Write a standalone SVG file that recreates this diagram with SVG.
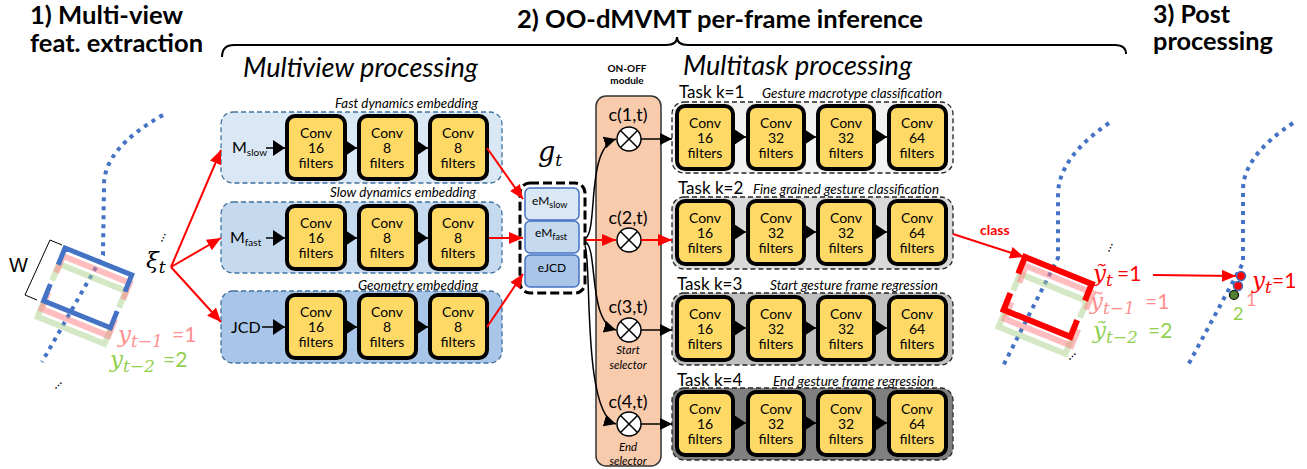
<svg xmlns="http://www.w3.org/2000/svg" width="1307" height="469" viewBox="0 0 1307 469">
<style>
.t{font-family:Lato,"Open Sans","Liberation Sans",sans-serif}
.b{font-weight:bold}
.i{font-style:italic}
.m{font-family:"DejaVu Serif","Liberation Serif",serif;font-style:italic}
.u{font-family:Lato,"Open Sans","Liberation Sans",sans-serif;font-style:normal}
.cv{font-family:Lato,"Open Sans","Liberation Sans",sans-serif;font-size:14px;text-anchor:middle}
.conv{fill:#ffd966;stroke:#000;stroke-width:4}
.mv{stroke:#41719c;stroke-width:1.3;stroke-dasharray:5 3}
.task{stroke:#262626;stroke-width:1.3;stroke-dasharray:5 3}
.ba{stroke:#000;stroke-width:1.5;fill:none}
.ra{stroke:#ff0000;stroke-width:2;fill:none}
.dot{stroke:#4472c4;stroke-width:4;stroke-dasharray:4 5;fill:none}
.emb{stroke:#4472c4;stroke-width:1.5}
</style>
<defs>
<marker id="bigB" markerUnits="userSpaceOnUse" markerWidth="12" markerHeight="16" refX="12" refY="8" orient="auto"><path d="M0,0 L12,8 L0,16 z" fill="#000"/></marker>
<marker id="smB" markerUnits="userSpaceOnUse" markerWidth="12" markerHeight="12" refX="12" refY="6" orient="auto"><path d="M0,0 L12,6 L0,12 z" fill="#000"/></marker>
<marker id="rA" markerUnits="userSpaceOnUse" markerWidth="14" markerHeight="12" refX="14" refY="6" orient="auto"><path d="M0,0 L14,6 L0,12 z" fill="#ff0000"/></marker>
<path id="frame" d="M0,18 L0,0 L72,0 L72,18 M0,39 L0,57 L72,57 L72,39"/>
</defs>

<!-- Titles -->
<g id="titles">
<text class="t b" x="30" y="24" font-size="25" textLength="153" lengthAdjust="spacingAndGlyphs">1) Multi-view</text>
<text class="t b" x="30" y="52" font-size="25" textLength="173" lengthAdjust="spacingAndGlyphs">feat. extraction</text>
<text class="t b" x="517" y="28" font-size="24" textLength="406" lengthAdjust="spacingAndGlyphs">2) OO-dMVMT per-frame inference</text>
<text class="t b" x="1153" y="23" font-size="24" textLength="77" lengthAdjust="spacingAndGlyphs">3) Post</text>
<text class="t b" x="1153" y="50" font-size="24" textLength="120" lengthAdjust="spacingAndGlyphs">processing</text>
<path d="M222,57 Q222,45 234,45 L666,45 Q677,45 677,37 Q677,45 688,45 L1115,45 Q1126,45 1126,54" fill="none" stroke="#000" stroke-width="2"/>
<text class="t i" x="243" y="77" font-size="27" textLength="235" lengthAdjust="spacingAndGlyphs">Multiview processing</text>
<text class="t i" x="683" y="75" font-size="27" textLength="229" lengthAdjust="spacingAndGlyphs">Multitask processing</text>
<text class="t b" x="627" y="72" font-size="10" text-anchor="middle">ON-OFF</text>
<text class="t b" x="627" y="84" font-size="10" text-anchor="middle">module</text>
</g>

<!-- Left: multi-view feature extraction -->
<g id="input-view">
<path class="dot" d="M163,115 Q104,148 104,185 L103,255 L42,362"/>
<g transform="translate(59,264) rotate(22)"><use href="#frame" fill="none" stroke="#a9d18e" stroke-opacity="0.5" stroke-width="6"/></g>
<g transform="translate(63,256) rotate(22)"><use href="#frame" fill="none" stroke="#ff7c80" stroke-opacity="0.5" stroke-width="6"/></g>
<g transform="translate(65,248) rotate(22)"><use href="#frame" fill="none" stroke="#4472c4" stroke-width="5"/></g>
<path d="M62,245 L50,240 L25,295 L37,300" fill="none" stroke="#000" stroke-width="1"/>
<text x="9" y="272" font-size="20" font-family="Liberation Sans, sans-serif">W</text>
<text class="m" x="146" y="268" font-size="23">ξ<tspan font-size="17" dy="5">t</tspan></text>
<text class="t" x="164" y="238" font-size="13" transform="rotate(-65 164 238)" text-anchor="middle">…</text>
<text class="t" x="59" y="386" font-size="13" transform="rotate(-45 59 386)" text-anchor="middle">…</text>
<text class="m" x="118" y="342" font-size="23" fill="#ff8f8f">y<tspan font-size="17" dy="5">t−1</tspan><tspan class="u" font-size="21" dy="-5" x="172">=1</tspan></text>
<text class="m" x="110" y="367" font-size="23" fill="#92d050">y<tspan font-size="17" dy="5">t−2</tspan><tspan class="u" font-size="21" dy="-5" x="163">=2</tspan></text>
</g>

<!-- Multiview: Fast dynamics embedding -->
<g id="mv-slow">
<rect class="mv" x="221" y="112" width="281" height="71" rx="12" fill="#dae7f4"/>
<text class="t i" x="335" y="108" font-size="13" textLength="143" lengthAdjust="spacingAndGlyphs">Fast dynamics embedding</text>
<text class="t" x="232" y="153" font-size="16">M<tspan font-size="10" dy="3">slow</tspan></text>
<rect class="conv" x="287" y="116" width="58" height="63" rx="8"/>
<rect class="conv" x="359" y="116" width="57" height="63" rx="8"/>
<rect class="conv" x="430" y="116" width="57" height="63" rx="8"/>
<text class="cv" x="316" y="138">Conv</text><text class="cv" x="316" y="153">16</text><text class="cv" x="316" y="168">filters</text>
<text class="cv" x="387" y="138">Conv</text><text class="cv" x="387" y="153">8</text><text class="cv" x="387" y="168">filters</text>
<text class="cv" x="458" y="138">Conv</text><text class="cv" x="458" y="153">8</text><text class="cv" x="458" y="168">filters</text>
</g>

<g id="mv-fast">
<rect class="mv" x="221" y="202" width="281" height="71" rx="12" fill="#c5d9ef"/>
<text class="t i" x="330" y="197" font-size="13" textLength="146" lengthAdjust="spacingAndGlyphs">Slow dynamics embedding</text>
<text class="t" x="230" y="243" font-size="16">M<tspan font-size="10" dy="3">fast</tspan></text>
<rect class="conv" x="287" y="206" width="58" height="63" rx="8"/>
<rect class="conv" x="359" y="206" width="57" height="63" rx="8"/>
<rect class="conv" x="430" y="206" width="57" height="63" rx="8"/>
<text class="cv" x="316" y="228">Conv</text><text class="cv" x="316" y="243">16</text><text class="cv" x="316" y="258">filters</text>
<text class="cv" x="387" y="228">Conv</text><text class="cv" x="387" y="243">8</text><text class="cv" x="387" y="258">filters</text>
<text class="cv" x="458" y="228">Conv</text><text class="cv" x="458" y="243">8</text><text class="cv" x="458" y="258">filters</text>
</g>

<g id="mv-jcd">
<rect class="mv" x="221" y="291" width="281" height="72" rx="12" fill="#a9c6e8"/>
<text class="t i" x="358" y="290" font-size="13" textLength="120" lengthAdjust="spacingAndGlyphs">Geometry embedding</text>
<text class="t" x="231" y="333" font-size="16">JCD</text>
<rect class="conv" x="287" y="295" width="58" height="63" rx="8"/>
<rect class="conv" x="359" y="295" width="57" height="63" rx="8"/>
<rect class="conv" x="430" y="295" width="57" height="63" rx="8"/>
<text class="cv" x="316" y="317">Conv</text><text class="cv" x="316" y="332">16</text><text class="cv" x="316" y="347">filters</text>
<text class="cv" x="387" y="317">Conv</text><text class="cv" x="387" y="332">8</text><text class="cv" x="387" y="347">filters</text>
<text class="cv" x="458" y="317">Conv</text><text class="cv" x="458" y="332">8</text><text class="cv" x="458" y="347">filters</text>
</g>

<!-- g_t embedding concat -->
<g id="gt">
<text class="m" x="538" y="161" font-size="27">g<tspan font-size="17" dy="5">t</tspan></text>
<rect x="520" y="183" width="65" height="110" rx="10" fill="none" stroke="#000" stroke-width="3" stroke-dasharray="9 4"/>
<rect class="emb" x="525" y="188" width="54" height="32" rx="5" fill="#dae7f4"/>
<rect class="emb" x="525" y="221" width="54" height="32" rx="5" fill="#c5d9ef"/>
<rect class="emb" x="525" y="255" width="54" height="32" rx="5" fill="#a9c6e8"/>
<text class="t" x="532" y="205" font-size="12">eM<tspan font-size="9" dy="3">slow</tspan></text>
<text class="t" x="535" y="237" font-size="12">eM<tspan font-size="9" dy="3">fast</tspan></text>
<text class="t" x="552" y="272" font-size="12" text-anchor="middle">eJCD</text>
</g>

<!-- ON-OFF module -->
<g id="onoff">
<rect x="596" y="96" width="65" height="370" rx="10" fill="#f8cbad" stroke="#333" stroke-width="1.5"/>
<text class="t" x="628" y="121" font-size="18" text-anchor="middle">c(1,t)</text>
<text class="t" x="628" y="224" font-size="18" text-anchor="middle">c(2,t)</text>
<text class="t" x="628" y="313" font-size="18" text-anchor="middle">c(3,t)</text>
<text class="t" x="628" y="408" font-size="18" text-anchor="middle">c(4,t)</text>
<g fill="#fff" stroke="#000" stroke-width="1.5">
<circle cx="629" cy="139" r="12"/><circle cx="629" cy="240" r="12"/><circle cx="629" cy="330" r="12"/><circle cx="629" cy="424" r="12"/>
</g>
<path d="M620.5,130.5 L637.5,147.5 M637.5,130.5 L620.5,147.5 M620.5,231.5 L637.5,248.5 M637.5,231.5 L620.5,248.5 M620.5,321.5 L637.5,338.5 M637.5,321.5 L620.5,338.5 M620.5,415.5 L637.5,432.5 M637.5,415.5 L620.5,432.5" stroke="#000" stroke-width="1.5"/>
<text class="t i" x="628" y="354" font-size="11.5" text-anchor="middle">Start</text>
<text class="t i" x="628" y="369" font-size="11.5" text-anchor="middle">selector</text>
<text class="t i" x="628" y="451" font-size="11.5" text-anchor="middle">End</text>
<text class="t i" x="628" y="465" font-size="11.5" text-anchor="middle">selector</text>
</g>

<!-- Tasks -->
<g id="task1">
<rect class="task" x="672" y="102" width="281" height="71" rx="12" fill="#f2f2f2"/>
<text class="t" x="679" y="98" font-size="17">Task k=1</text>
<text class="t i" x="762" y="98" font-size="13" textLength="180" lengthAdjust="spacingAndGlyphs">Gesture macrotype classification</text>
<rect class="conv" x="677" y="106" width="56" height="63" rx="8"/><rect class="conv" x="748" y="106" width="56" height="63" rx="8"/><rect class="conv" x="818" y="106" width="56" height="63" rx="8"/><rect class="conv" x="889" y="106" width="57" height="63" rx="8"/>
<text class="cv" x="705" y="128">Conv</text><text class="cv" x="705" y="143">16</text><text class="cv" x="705" y="158">filters</text>
<text class="cv" x="776" y="128">Conv</text><text class="cv" x="776" y="143">32</text><text class="cv" x="776" y="158">filters</text>
<text class="cv" x="846" y="128">Conv</text><text class="cv" x="846" y="143">32</text><text class="cv" x="846" y="158">filters</text>
<text class="cv" x="917" y="128">Conv</text><text class="cv" x="917" y="143">64</text><text class="cv" x="917" y="158">filters</text>
</g>
<g id="task2">
<rect class="task" x="672" y="197" width="281" height="72" rx="12" fill="#d9d9d9"/>
<text class="t" x="678" y="194" font-size="17">Task k=2</text>
<text class="t i" x="753" y="194" font-size="13" textLength="186" lengthAdjust="spacingAndGlyphs">Fine grained gesture classification</text>
<rect class="conv" x="677" y="201" width="56" height="63" rx="8"/><rect class="conv" x="748" y="201" width="56" height="63" rx="8"/><rect class="conv" x="818" y="201" width="56" height="63" rx="8"/><rect class="conv" x="889" y="201" width="57" height="63" rx="8"/>
<text class="cv" x="705" y="223">Conv</text><text class="cv" x="705" y="238">16</text><text class="cv" x="705" y="253">filters</text>
<text class="cv" x="776" y="223">Conv</text><text class="cv" x="776" y="238">32</text><text class="cv" x="776" y="253">filters</text>
<text class="cv" x="846" y="223">Conv</text><text class="cv" x="846" y="238">32</text><text class="cv" x="846" y="253">filters</text>
<text class="cv" x="917" y="223">Conv</text><text class="cv" x="917" y="238">64</text><text class="cv" x="917" y="253">filters</text>
</g>
<g id="task3">
<rect class="task" x="672" y="293" width="281" height="72" rx="12" fill="#bfbfbf"/>
<text class="t" x="677" y="290" font-size="17">Task k=3</text>
<text class="t i" x="770" y="290" font-size="13" textLength="168" lengthAdjust="spacingAndGlyphs">Start gesture frame regression</text>
<rect class="conv" x="677" y="297" width="56" height="63" rx="8"/><rect class="conv" x="748" y="297" width="56" height="63" rx="8"/><rect class="conv" x="818" y="297" width="56" height="63" rx="8"/><rect class="conv" x="889" y="297" width="57" height="63" rx="8"/>
<text class="cv" x="705" y="319">Conv</text><text class="cv" x="705" y="334">16</text><text class="cv" x="705" y="349">filters</text>
<text class="cv" x="776" y="319">Conv</text><text class="cv" x="776" y="334">32</text><text class="cv" x="776" y="349">filters</text>
<text class="cv" x="846" y="319">Conv</text><text class="cv" x="846" y="334">32</text><text class="cv" x="846" y="349">filters</text>
<text class="cv" x="917" y="319">Conv</text><text class="cv" x="917" y="334">64</text><text class="cv" x="917" y="349">filters</text>
</g>
<g id="task4">
<rect class="task" x="672" y="388" width="281" height="72" rx="12" fill="#808080"/>
<text class="t" x="677" y="386" font-size="17">Task k=4</text>
<text class="t i" x="773" y="386" font-size="13" textLength="161" lengthAdjust="spacingAndGlyphs">End gesture frame regression</text>
<rect class="conv" x="677" y="392" width="56" height="63" rx="8"/><rect class="conv" x="748" y="392" width="56" height="63" rx="8"/><rect class="conv" x="818" y="392" width="56" height="63" rx="8"/><rect class="conv" x="889" y="392" width="57" height="63" rx="8"/>
<text class="cv" x="705" y="414">Conv</text><text class="cv" x="705" y="429">16</text><text class="cv" x="705" y="444">filters</text>
<text class="cv" x="776" y="414">Conv</text><text class="cv" x="776" y="429">32</text><text class="cv" x="776" y="444">filters</text>
<text class="cv" x="846" y="414">Conv</text><text class="cv" x="846" y="429">32</text><text class="cv" x="846" y="444">filters</text>
<text class="cv" x="917" y="414">Conv</text><text class="cv" x="917" y="429">64</text><text class="cv" x="917" y="444">filters</text>
</g>

<!-- Right: output and post processing -->
<g id="output-view">
<path class="dot" d="M1109,123 Q1058,158 1058,195 L1058,258 L1002,368"/>
<g transform="translate(1020,274) rotate(22)"><use href="#frame" fill="none" stroke="#a9d18e" stroke-opacity="0.5" stroke-width="6"/></g>
<g transform="translate(1026,266) rotate(22)"><use href="#frame" fill="none" stroke="#ff7c80" stroke-opacity="0.5" stroke-width="6"/></g>
<g transform="translate(1025,257) rotate(22)"><use href="#frame" fill="none" stroke="#ff0000" stroke-width="6"/></g>
<text class="t b" x="980" y="235" font-size="14" fill="#ff0000">class</text>
<text class="t" x="1111" y="248" font-size="13" transform="rotate(-65 1111 248)" text-anchor="middle">…</text>
<text class="t" x="1073" y="357" font-size="13" transform="rotate(-45 1073 357)" text-anchor="middle">…</text>
<text class="m" x="1093" y="281" font-size="23" fill="#ff0000">ỹ<tspan font-size="17" dy="5">t</tspan><tspan class="u" font-size="21" dy="-5" x="1117">=1</tspan></text>
<text class="m" x="1090" y="309" font-size="23" fill="#ff8f8f">ỹ<tspan font-size="17" dy="5">t−1</tspan><tspan class="u" font-size="21" dy="-5" x="1145">=1</tspan></text>
<text class="m" x="1093" y="338" font-size="23" fill="#92d050">ỹ<tspan font-size="17" dy="5">t−2</tspan><tspan class="u" font-size="21" dy="-5" x="1148">=2</tspan></text>
</g>
<g id="post">
<path class="dot" d="M1293,123 Q1243,156 1243,190 L1243,263 L1187,367"/>
<circle cx="1241" cy="276" r="4.5" fill="#ff0000" stroke="#4472c4" stroke-width="1.5"/>
<circle cx="1238" cy="286" r="4.5" fill="#ff0000" stroke="#4472c4" stroke-width="1.5"/>
<circle cx="1234" cy="295" r="4.5" fill="#548235" stroke="#000" stroke-width="1.2"/>
<text class="m" x="1252" y="288" font-size="23" fill="#ff0000">y<tspan font-size="17" dy="5">t</tspan><tspan class="u" font-size="21" dy="-5" x="1272">=1</tspan></text>
<text class="t" x="1246" y="306" font-size="18" fill="#ff8f8f">1</text>
<text class="t" x="1233" y="320" font-size="18" fill="#92d050">2</text>
</g>

<!-- Connectors -->
<g id="connectors">
<line class="ra" x1="171" y1="267" x2="221" y2="150" marker-end="url(#rA)"/>
<line class="ra" x1="171" y1="267" x2="221" y2="238" marker-end="url(#rA)"/>
<line class="ra" x1="171" y1="267" x2="221" y2="322" marker-end="url(#rA)"/>
<line class="ba" x1="266" y1="148" x2="285" y2="148" marker-end="url(#bigB)"/>
<line class="ba" x1="266" y1="238" x2="285" y2="238" marker-end="url(#bigB)"/>
<line class="ba" x1="262" y1="327" x2="285" y2="327" marker-end="url(#bigB)"/>
<line class="ba" x1="347" y1="148" x2="357" y2="148" marker-end="url(#bigB)"/>
<line class="ba" x1="418" y1="148" x2="428" y2="148" marker-end="url(#bigB)"/>
<line class="ba" x1="347" y1="238" x2="357" y2="238" marker-end="url(#bigB)"/>
<line class="ba" x1="418" y1="238" x2="428" y2="238" marker-end="url(#bigB)"/>
<line class="ba" x1="347" y1="327" x2="357" y2="327" marker-end="url(#bigB)"/>
<line class="ba" x1="418" y1="327" x2="428" y2="327" marker-end="url(#bigB)"/>
<line class="ra" x1="487" y1="148" x2="523" y2="199" marker-end="url(#rA)"/>
<line class="ra" x1="489" y1="238" x2="523" y2="238" marker-end="url(#rA)"/>
<line class="ra" x1="487" y1="327" x2="523" y2="274" marker-end="url(#rA)"/>
<path class="ba" d="M586,238 C598,228 586,148 616,139" marker-end="url(#smB)"/>
<path class="ba" d="M586,242 C598,252 588,322 616,330" marker-end="url(#smB)"/>
<path class="ba" d="M585,246 C592,262 582,414 616,424" marker-end="url(#smB)"/>
<line class="ra" x1="586" y1="240" x2="616" y2="240" marker-end="url(#rA)"/>
<line class="ra" x1="641" y1="240" x2="672" y2="240" marker-end="url(#rA)"/>
<line class="ba" x1="641" y1="139" x2="672" y2="139" marker-end="url(#smB)"/>
<line class="ba" x1="641" y1="330" x2="672" y2="330" marker-end="url(#smB)"/>
<line class="ba" x1="641" y1="424" x2="672" y2="424" marker-end="url(#smB)"/>
<line class="ba" x1="734" y1="137" x2="746" y2="137" marker-end="url(#bigB)"/>
<line class="ba" x1="805" y1="137" x2="816" y2="137" marker-end="url(#bigB)"/>
<line class="ba" x1="875" y1="137" x2="887" y2="137" marker-end="url(#bigB)"/>
<line class="ba" x1="734" y1="232" x2="746" y2="232" marker-end="url(#bigB)"/>
<line class="ba" x1="805" y1="232" x2="816" y2="232" marker-end="url(#bigB)"/>
<line class="ba" x1="875" y1="232" x2="887" y2="232" marker-end="url(#bigB)"/>
<line class="ba" x1="734" y1="328" x2="746" y2="328" marker-end="url(#bigB)"/>
<line class="ba" x1="805" y1="328" x2="816" y2="328" marker-end="url(#bigB)"/>
<line class="ba" x1="875" y1="328" x2="887" y2="328" marker-end="url(#bigB)"/>
<line class="ba" x1="734" y1="423" x2="746" y2="423" marker-end="url(#bigB)"/>
<line class="ba" x1="805" y1="423" x2="816" y2="423" marker-end="url(#bigB)"/>
<line class="ba" x1="875" y1="423" x2="887" y2="423" marker-end="url(#bigB)"/>
<line class="ra" x1="953" y1="234" x2="1024" y2="257" marker-end="url(#rA)"/>
<line class="ra" x1="1153" y1="275" x2="1236" y2="276" marker-end="url(#rA)"/>
</g>
</svg>
